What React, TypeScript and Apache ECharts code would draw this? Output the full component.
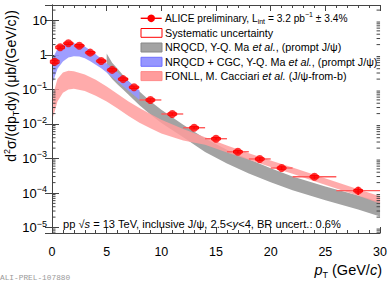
import React, { useEffect, useRef } from 'react';
import * as echarts from 'echarts';

// ---- measured data (ALICE preliminary) ----
const ptCenter = [0.25, 0.75, 1.5, 2.5, 3.5, 4.5, 5.5, 6.5, 7.5, 9, 11, 13, 15, 17, 19, 21, 24, 28];
const ptBinLow = [0, 0.5, 1, 2, 3, 4, 5, 6, 7, 8, 10, 12, 14, 16, 18, 20, 22, 26];
const ptBinHigh = [0.5, 1, 2, 3, 4, 5, 6, 7, 8, 10, 12, 14, 16, 18, 20, 22, 26, 30];
const crossSection = [0.64, 1.67, 2.18, 1.86, 1.17, 0.67, 0.37, 0.2, 0.116, 0.0497, 0.0195, 0.0078, 0.00375, 0.00157, 0.00097, 0.00053, 0.000297, 0.000117];
const statRelErr = [0.04, 0.03, 0.02, 0.02, 0.02, 0.02, 0.03, 0.03, 0.03, 0.04, 0.05, 0.06, 0.07, 0.09, 0.1, 0.12, 0.14, 0.25];
const systRelErr = [0.1, 0.09, 0.08, 0.08, 0.08, 0.08, 0.08, 0.08, 0.08, 0.08, 0.08, 0.08, 0.08, 0.08, 0.08, 0.08, 0.08, 0.08];

// ---- NRQCD (Y-Q. Ma et al.) prompt J/psi ----
const nrqcdPt = [5, 5.5, 6, 6.5, 7, 8, 9, 10, 12, 14, 16, 18, 20, 22, 25, 28, 30];
const nrqcdHigh = [1.1, 0.6, 0.4, 0.26, 0.175, 0.088, 0.046, 0.026, 0.0095, 0.0038, 0.0018, 0.00095, 0.00052, 0.0003, 0.000155, 0.000085, 0.000056];
const nrqcdLow = [0.32, 0.2, 0.14, 0.1, 0.07, 0.035, 0.019, 0.0107, 0.0041, 0.00155, 0.00072, 0.00037, 0.000205, 0.00012, 0.000062, 0.000033, 0.000021];

// ---- NRQCD + CGC ----
const cgcPt = [0.1, 0.5, 1, 1.5, 2, 2.5, 3, 3.5, 4, 4.5, 5, 5.5, 6, 6.5, 7, 7.5, 8];
const cgcHigh = [0.85, 1.5, 1.95, 2.15, 2.2, 2.05, 1.75, 1.38, 1.05, 0.78, 0.57, 0.42, 0.31, 0.23, 0.17, 0.125, 0.095];
const cgcLow = [0.17, 0.4, 0.65, 0.85, 0.92, 0.9, 0.8, 0.66, 0.52, 0.41, 0.31, 0.23, 0.17, 0.125, 0.092, 0.068, 0.05];

// ---- FONLL (M. Cacciari et al.) J/psi from b ----
const fonllPt = [0.1, 0.5, 1, 1.5, 2, 3, 4, 5, 6, 7, 8, 9, 10, 12, 14, 16, 18, 20, 22, 24, 26, 28, 30];
const fonllHigh = [0.07, 0.2, 0.31, 0.35, 0.34, 0.27, 0.19, 0.122, 0.074, 0.045, 0.029, 0.0195, 0.0133, 0.0072, 0.0041, 0.0024, 0.00142, 0.00088, 0.00055, 0.00034, 0.00021, 0.000128, 0.00008];
const fonllLow = [0.016, 0.045, 0.08, 0.1, 0.105, 0.09, 0.066, 0.045, 0.028, 0.017, 0.0108, 0.0075, 0.0053, 0.0033, 0.0025, 0.0015, 0.00092, 0.00057, 0.00036, 0.00022, 0.000136, 0.000083, 0.00005];

// ---- axes ----
const xMin = 0;
const xMax = 30;
const xInterval = 5;
const yMin = 6.93e-6;
const yMax = 28.1;
const yMinorMultipliers = [2, 3, 4, 5, 6, 7, 8, 9];
const yDecades = [-6, -5, -4, -3, -2, -1, 0, 1];

const FONT = 'Liberation Sans, Arial, Helvetica, sans-serif';
const RED = '#ff0000';
const GRAY = '#a3a3a3';
const BLUE = '#9696ff';
const PINK = '#ff9c9c';
const AXIS = '#444';
const LEG = 10.75;

function bandSeries(xs: number[], hi: number[], lo: number[], color: string, z: number, opacity: number) {
  return {
    type: 'custom',
    silent: true,
    z,
    clip: true,
    data: [[xs[0], hi[0]]],
    renderItem: (params: any, api: any) => {
      const pts: number[][] = [];
      for (let i = 0; i < xs.length; i++) pts.push(api.coord([xs[i], hi[i]]));
      for (let i = xs.length - 1; i >= 0; i--) pts.push(api.coord([xs[i], lo[i]]));
      return { type: 'polygon', shape: { points: pts }, style: { fill: color, opacity, stroke: 'none' } };
    },
  };
}

function yLabel(v: number) {
  const n = Math.round(Math.log10(v));
  const p = Math.pow(10, n);
  if (Math.abs(v - p) / p > 1e-6) return '';
  if (n === 1) return '10';
  if (n === 0) return '1';
  return '10{s|\u2212' + -n + '}';
}

export default function App() {
  const ref = useRef<HTMLDivElement>(null);
  useEffect(() => {
    if (!ref.current) return;
    const chart = echarts.init(ref.current, undefined, { renderer: 'svg' });

    const minorVals: number[][] = [];
    yDecades.forEach((n) => {
      yMinorMultipliers.forEach((k) => {
        const v = k * Math.pow(10, n);
        if (v > yMin && v < yMax) minorVals.push([xMin, v]);
      });
    });

    const pointData = ptCenter.map((p, i) => [p, crossSection[i], ptBinLow[i], ptBinHigh[i], statRelErr[i], systRelErr[i]]);

    const axisCommonX = {
      type: 'value',
      min: xMin,
      max: xMax,
      interval: xInterval,
      axisLine: { show: true, lineStyle: { color: AXIS, width: 1 } },
      axisTick: { show: true, inside: true, length: 6, lineStyle: { color: AXIS } },
      minorTick: { show: true, splitNumber: 5, length: 3, lineStyle: { color: AXIS } },
      splitLine: { show: false },
      minorSplitLine: { show: false },
    };
    const axisCommonY = {
      type: 'log',
      logBase: 10,
      min: yMin,
      max: yMax,
      axisLine: { show: true, lineStyle: { color: AXIS, width: 1 } },
      axisTick: { show: true, inside: true, length: 7, lineStyle: { color: AXIS } },
      minorTick: { show: false },
      splitLine: { show: false },
    };

    const italic = { fontStyle: 'italic', fontSize: LEG, fontFamily: FONT, fill: '#000' };

    const option: any = {
      animation: false,
      grid: { left: 52, top: 5, right: 8, bottom: 50, containLabel: false },
      xAxis: [
        {
          ...axisCommonX,
          position: 'bottom',
          axisLabel: { show: true, fontSize: 12.5, color: '#000', fontFamily: FONT, margin: 12 },
        },
        {
          ...axisCommonX,
          position: 'top',
          axisLabel: { show: false },
        },
      ],
      yAxis: [
        {
          ...axisCommonY,
          position: 'left',
          axisLabel: {
            show: true,
            fontSize: 13,
            color: '#000',
            fontFamily: FONT,
            margin: 5,
            lineHeight: 17,
            formatter: yLabel,
            rich: { s: { fontSize: 9, lineHeight: 9, verticalAlign: 'top', fontFamily: FONT, color: '#000' } },
          },
        },
        {
          ...axisCommonY,
          position: 'right',
          axisLabel: { show: false },
        },
      ],
      series: [
        bandSeries(nrqcdPt, nrqcdHigh, nrqcdLow, GRAY, 1, 1),
        bandSeries(cgcPt, cgcHigh, cgcLow, BLUE, 2, 0.92),
        bandSeries(fonllPt, fonllHigh, fonllLow, PINK, 3, 0.85),
        {
          type: 'custom',
          silent: true,
          z: 6,
          data: minorVals,
          renderItem: (params: any, api: any) => {
            const v = api.value(1);
            const l = api.coord([xMin, v]);
            const r = api.coord([xMax, v]);
            return {
              type: 'group',
              children: [
                { type: 'line', shape: { x1: l[0], y1: l[1], x2: l[0] + 3.5, y2: l[1] }, style: { stroke: AXIS, lineWidth: 1 } },
                { type: 'line', shape: { x1: r[0], y1: r[1], x2: r[0] - 3.5, y2: r[1] }, style: { stroke: AXIS, lineWidth: 1 } },
              ],
            };
          },
        },
        {
          type: 'custom',
          silent: true,
          z: 7,
          data: pointData,
          renderItem: (params: any, api: any) => {
            const x = api.value(0);
            const y = api.value(1);
            const xl = api.value(2);
            const xh = api.value(3);
            const st = api.value(4);
            const sy = api.value(5);
            const c = api.coord([x, y]);
            const l = api.coord([xl, y]);
            const r = api.coord([xh, y]);
            const t = api.coord([x, y * (1 + st)]);
            const b = api.coord([x, y * (1 - st)]);
            const bt = api.coord([x - 0.4, y * (1 + sy)]);
            const bb = api.coord([x + 0.4, y * (1 - sy)]);
            return {
              type: 'group',
              children: [
                { type: 'line', shape: { x1: l[0], y1: c[1], x2: r[0], y2: c[1] }, style: { stroke: '#ff5a5a', lineWidth: 1.4 } },
                { type: 'line', shape: { x1: c[0], y1: t[1], x2: c[0], y2: b[1] }, style: { stroke: RED, lineWidth: 1.4 } },
                {
                  type: 'rect',
                  shape: { x: bt[0], y: bt[1], width: bb[0] - bt[0], height: bb[1] - bt[1] },
                  style: { fill: 'none', stroke: RED, lineWidth: 1 },
                },
              ],
            };
          },
        },
        {
          type: 'scatter',
          silent: true,
          z: 8,
          symbol: 'circle',
          symbolSize: 8,
          itemStyle: { color: RED },
          data: ptCenter.map((p, i) => [p, crossSection[i]]),
        },
      ],
      graphic: [
        // legend
        { type: 'line', shape: { x1: 140.7, y1: 18.3, x2: 161.7, y2: 18.3 }, style: { stroke: RED, lineWidth: 1.4 }, z: 20 },
        { type: 'circle', shape: { cx: 151.2, cy: 18.3, r: 3.8 }, style: { fill: RED }, z: 20 },
        { type: 'rect', shape: { x: 141, y: 28.5, width: 21, height: 8.8 }, style: { fill: '#fff', stroke: RED, lineWidth: 1 }, z: 20 },
        { type: 'rect', shape: { x: 141, y: 43, width: 21, height: 9 }, style: { fill: GRAY, stroke: '#888', lineWidth: 1 }, z: 20 },
        { type: 'rect', shape: { x: 141, y: 57.3, width: 21, height: 9 }, style: { fill: BLUE, stroke: '#6f6fff', lineWidth: 1 }, z: 20 },
        { type: 'rect', shape: { x: 141, y: 71.6, width: 21, height: 9 }, style: { fill: PINK, stroke: '#ff8a8a', lineWidth: 1 }, z: 20 },
        {
          type: 'text', z: 20,
          style: {
            x: 165, y: 18, text: 'ALICE preliminary, L{sub|int} = 3.2 pb{sup|\u22121} \u00b1 3.4%',
            fontSize: 10.2, fontFamily: FONT, fill: '#000', lineHeight: 14, textAlign: 'left', textVerticalAlign: 'middle',
            rich: {
              sub: { fontSize: 7, lineHeight: 7, verticalAlign: 'bottom', fontFamily: FONT, fill: '#000' },
              sup: { fontSize: 7, lineHeight: 7, verticalAlign: 'top', fontFamily: FONT, fill: '#000' },
            },
          },
        },
        {
          type: 'text', z: 20,
          style: { x: 165, y: 32.6, text: 'Systematic uncertainty', fontSize: LEG, fontFamily: FONT, fill: '#000', textAlign: 'left', textVerticalAlign: 'middle' },
        },
        {
          type: 'text', z: 20,
          style: {
            x: 165, y: 47.2, text: 'NRQCD, Y-Q. Ma {i|et al.}, (prompt J/\u03c8)',
            fontSize: LEG, fontFamily: FONT, fill: '#000', textAlign: 'left', textVerticalAlign: 'middle',
            rich: { i: italic },
          },
        },
        {
          type: 'text', z: 20,
          style: {
            x: 165, y: 61.5, text: 'NRQCD + CGC, Y-Q. Ma {i|et al.}, (prompt J/\u03c8)',
            fontSize: LEG, fontFamily: FONT, fill: '#000', textAlign: 'left', textVerticalAlign: 'middle',
            rich: { i: italic },
          },
        },
        {
          type: 'text', z: 20,
          style: {
            x: 165, y: 75.8, text: 'FONLL, M. Cacciari {i|et al.} (J/\u03c8-from-b)',
            fontSize: LEG, fontFamily: FONT, fill: '#000', textAlign: 'left', textVerticalAlign: 'middle',
            rich: { i: italic },
          },
        },
        // bottom annotation
        {
          type: 'text', z: 20,
          style: {
            x: 63, y: 223.5, text: 'pp \u221a{i|s} = 13 TeV, inclusive J/\u03c8, 2.5<{i|y}<4, BR uncert.: 0.6%',
            fontSize: 11.1, fontFamily: FONT, fill: '#000', textAlign: 'left', textVerticalAlign: 'middle',
            rich: { i: { fontStyle: 'italic', fontSize: 11.1, fontFamily: FONT, fill: '#000' } },
          },
        },
        // x axis title
        {
          type: 'text', z: 20,
          style: {
            x: 382, y: 270, text: '{i|p}{sub|T} (GeV/{i|c})',
            fontSize: 14.5, fontFamily: FONT, fill: '#000', lineHeight: 19, textAlign: 'right', textVerticalAlign: 'middle',
            rich: {
              i: { fontStyle: 'italic', fontSize: 14.5, lineHeight: 19, fontFamily: FONT, fill: '#000' },
              sub: { fontSize: 9, lineHeight: 9, verticalAlign: 'bottom', fontFamily: FONT, fill: '#000' },
            },
          },
        },
        // y axis title
        {
          type: 'text', z: 20,
          x: 11, y: 86, rotation: Math.PI / 2,
          style: {
            x: 0, y: 0, text: 'd{sup|2}\u03c3/(dp{sub|T}dy) (\u03bcb/(GeV/c))',
            fontSize: 14, fontFamily: FONT, fill: '#000', lineHeight: 18, textAlign: 'center', textVerticalAlign: 'middle',
            rich: {
              sup: { fontSize: 9, lineHeight: 9, verticalAlign: 'top', fontFamily: FONT, fill: '#000' },
              sub: { fontSize: 9, lineHeight: 9, verticalAlign: 'bottom', fontFamily: FONT, fill: '#000' },
            },
          },
        },
        // watermark id
        {
          type: 'text', z: 20,
          style: { x: 0, y: 278, text: 'ALI-PREL-107880', fontSize: 7.8, fontFamily: 'Liberation Mono, DejaVu Sans Mono, monospace', fill: '#999', textAlign: 'left', textVerticalAlign: 'middle' },
        },
      ],
    };

    chart.setOption(option);
    return () => chart.dispose();
  }, []);

  return <div ref={ref} style={{ position: 'absolute', left: 0, top: 0, width: 390, height: 283, background: '#fff' }} />;
}
